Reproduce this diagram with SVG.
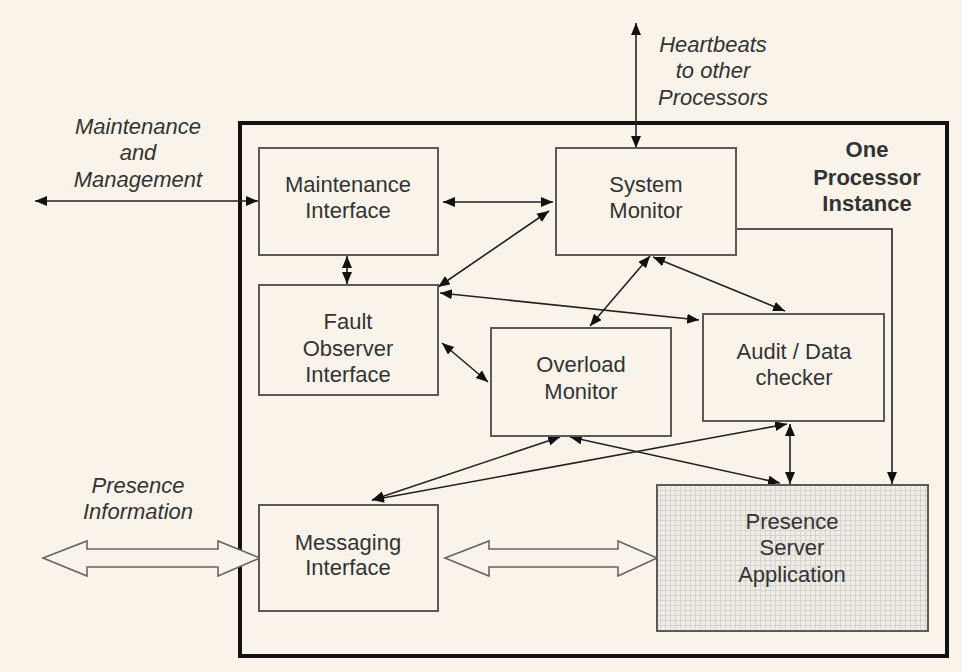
<svg xmlns="http://www.w3.org/2000/svg" width="962" height="672" viewBox="0 0 962 672">
<defs>
<style>
.bg{fill:#f9f3ea}
.box{fill:#f9f3ea;stroke:#5a5a5a;stroke-width:2}
.t{font-family:"Liberation Sans",Arial,sans-serif;font-size:22px;fill:#333;text-anchor:middle}
.i{font-style:italic}
.b{font-weight:bold}
.c{fill:none;stroke:#222;stroke-width:1.6}
.ha{fill:#f9f3ea;stroke:#666;stroke-width:1.6}
</style>
<marker id="ah" markerUnits="userSpaceOnUse" markerWidth="13" markerHeight="11" refX="12" refY="5" orient="auto-start-reverse" viewBox="0 0 13 11">
<path d="M0,0 L12,5 L0,10 z" fill="#111"/>
</marker>
<pattern id="grid" width="5" height="5" patternUnits="userSpaceOnUse">
<rect width="5" height="5" fill="#efebe5"/>
<path d="M0,0.5 H5 M0.5,0 V5" stroke="#d6d2cd" stroke-width="1"/>
</pattern>
</defs>
<rect class="bg" x="0" y="0" width="962" height="672"/>
<rect x="240" y="123" width="707" height="533" fill="none" stroke="#111" stroke-width="4"/>

<g id="connectors">
<line class="c" x1="35" y1="201" x2="258" y2="201" marker-start="url(#ah)" marker-end="url(#ah)"/>
<line class="c" x1="636" y1="23" x2="636" y2="148" marker-start="url(#ah)" marker-end="url(#ah)"/>
<line class="c" x1="443" y1="202" x2="553" y2="202" marker-start="url(#ah)" marker-end="url(#ah)"/>
<line class="c" x1="438" y1="287" x2="549" y2="211" marker-start="url(#ah)" marker-end="url(#ah)"/>
<line class="c" x1="440" y1="293" x2="699" y2="320" marker-start="url(#ah)" marker-end="url(#ah)"/>
<line class="c" x1="590" y1="326" x2="650" y2="256" marker-start="url(#ah)" marker-end="url(#ah)"/>
<line class="c" x1="653" y1="257" x2="785" y2="311" marker-start="url(#ah)" marker-end="url(#ah)"/>
<line class="c" x1="347" y1="256" x2="347" y2="284" marker-start="url(#ah)" marker-end="url(#ah)"/>
<line class="c" x1="442" y1="343" x2="488" y2="382" marker-start="url(#ah)" marker-end="url(#ah)"/>
<polyline class="c" points="736,229 892,229 892,484" marker-end="url(#ah)"/>
<line class="c" x1="372" y1="500" x2="560" y2="437" marker-start="url(#ah)" marker-end="url(#ah)"/>
<line class="c" x1="372" y1="500" x2="787" y2="424" marker-start="url(#ah)" marker-end="url(#ah)"/>
<line class="c" x1="570" y1="437" x2="780" y2="483" marker-start="url(#ah)" marker-end="url(#ah)"/>
<line class="c" x1="790" y1="424" x2="790" y2="484" marker-start="url(#ah)" marker-end="url(#ah)"/>
<polygon class="ha" points="43,558 87,541 87,549 218,549 218,541 260,558 218,576 218,567 87,567 87,576"/>
<polygon class="ha" points="445,558 489,541 489,549 618,549 618,541 657,558 618,576 618,567 489,567 489,576"/>
</g>

<g id="maintenance-interface">
<rect class="box" x="259" y="148" width="179" height="107"/>
<text class="t" x="348" y="192">Maintenance</text>
<text class="t" x="348" y="218">Interface</text>
</g>
<g id="system-monitor">
<rect class="box" x="556" y="148" width="180" height="107"/>
<text class="t" x="646" y="192">System</text>
<text class="t" x="646" y="218">Monitor</text>
</g>
<g id="fault-observer-interface">
<rect class="box" x="259" y="285" width="179" height="110"/>
<text class="t" x="348" y="329">Fault</text>
<text class="t" x="348" y="356">Observer</text>
<text class="t" x="348" y="382">Interface</text>
</g>
<g id="overload-monitor">
<rect class="box" x="491" y="328" width="180" height="108"/>
<text class="t" x="581" y="372">Overload</text>
<text class="t" x="581" y="399">Monitor</text>
</g>
<g id="audit-data-checker">
<rect class="box" x="703" y="314" width="181" height="107"/>
<text class="t" x="794" y="359">Audit / Data</text>
<text class="t" x="794" y="385">checker</text>
</g>
<g id="presence-server-application">
<rect x="657" y="485" width="271" height="146" fill="url(#grid)" stroke="#5a5a5a" stroke-width="2"/>
<text class="t" x="792" y="529">Presence</text>
<text class="t" x="792" y="555">Server</text>
<text class="t" x="792" y="582">Application</text>
</g>
<g id="messaging-interface">
<rect class="box" x="259" y="505" width="179" height="106"/>
<text class="t" x="348" y="550">Messaging</text>
<text class="t" x="348" y="575">Interface</text>
</g>

<g id="labels">
<text class="t i" x="138" y="134">Maintenance</text>
<text class="t i" x="138" y="160">and</text>
<text class="t i" x="138" y="187">Management</text>
<text class="t i" x="713" y="52">Heartbeats</text>
<text class="t i" x="713" y="78">to other</text>
<text class="t i" x="713" y="105">Processors</text>
<text class="t i" x="138" y="493">Presence</text>
<text class="t i" x="138" y="519">Information</text>
<text class="t b" x="867" y="157">One</text>
<text class="t b" x="867" y="185">Processor</text>
<text class="t b" x="867" y="211">Instance</text>
</g>
</svg>
